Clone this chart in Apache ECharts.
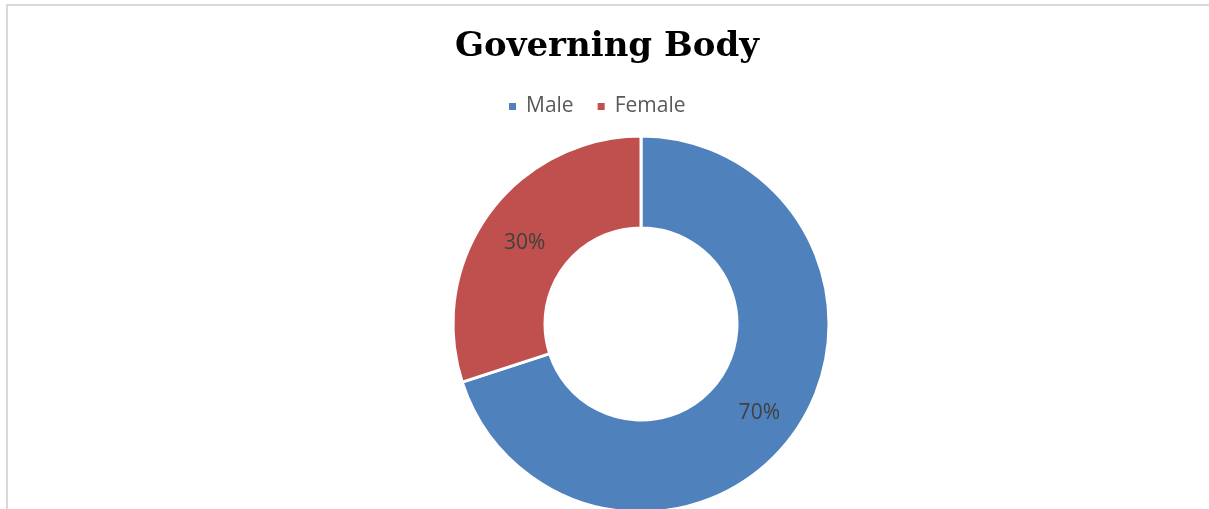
<!DOCTYPE html>
<html>
<head>
<meta charset="utf-8">
<script src="https://cdn.jsdelivr.net/npm/echarts@6/dist/echarts.min.js"></script>
<style>
html,body{margin:0;padding:0;background:#fff;overflow:hidden;}
#frame{position:absolute;left:6px;top:4px;width:1300px;height:600px;border-top:2px solid #d9d9d9;border-left:2px solid #d9d9d9;}
#chart{position:absolute;left:0;top:0;width:1209px;height:509px;}
</style>
</head>
<body>
<div id="frame"></div>
<div id="chart"></div>
<script>
const titleText = 'Governing Body';
const categories = ['Male', 'Female'];
const values = [70, 30];
const colors = ['#4f81bd', '#c0504d'];

const chart = echarts.init(document.getElementById('chart'), null, {renderer: 'canvas'});
chart.setOption({
  animation: false,
  title: {
    text: titleText,
    left: 455,
    top: 30,
    padding: 0,
    textStyle: {fontFamily: 'DejaVu Serif', fontWeight: 'bold', fontSize: 34, color: '#000'}
  },
  legend: {
    data: categories,
    top: 96,
    left: 507,
    padding: 0,
    icon: 'rect',
    itemWidth: 9,
    itemHeight: 9,
    itemGap: 22,
    textStyle: {fontFamily: 'Open Sans', fontSize: 21, color: '#595959', padding: [0, 0, 0, 4]}
  },
  color: colors,
  series: [{
    type: 'pie',
    center: [641, 324],
    radius: [96, 188],
    startAngle: 90,
    clockwise: true,
    itemStyle: {borderColor: '#fff', borderWidth: 3},
    label: {
      show: true,
      position: 'inside',
      formatter: p => Math.round(p.percent) + '%',
      fontFamily: 'Open Sans',
      fontSize: 21,
      color: '#404040',
      offset: [1, 4]
    },
    labelLine: {show: false},
    emphasis: {disabled: true},
    data: categories.map((c, i) => ({name: c, value: values[i]}))
  }]
});
</script>
</body>
</html>
